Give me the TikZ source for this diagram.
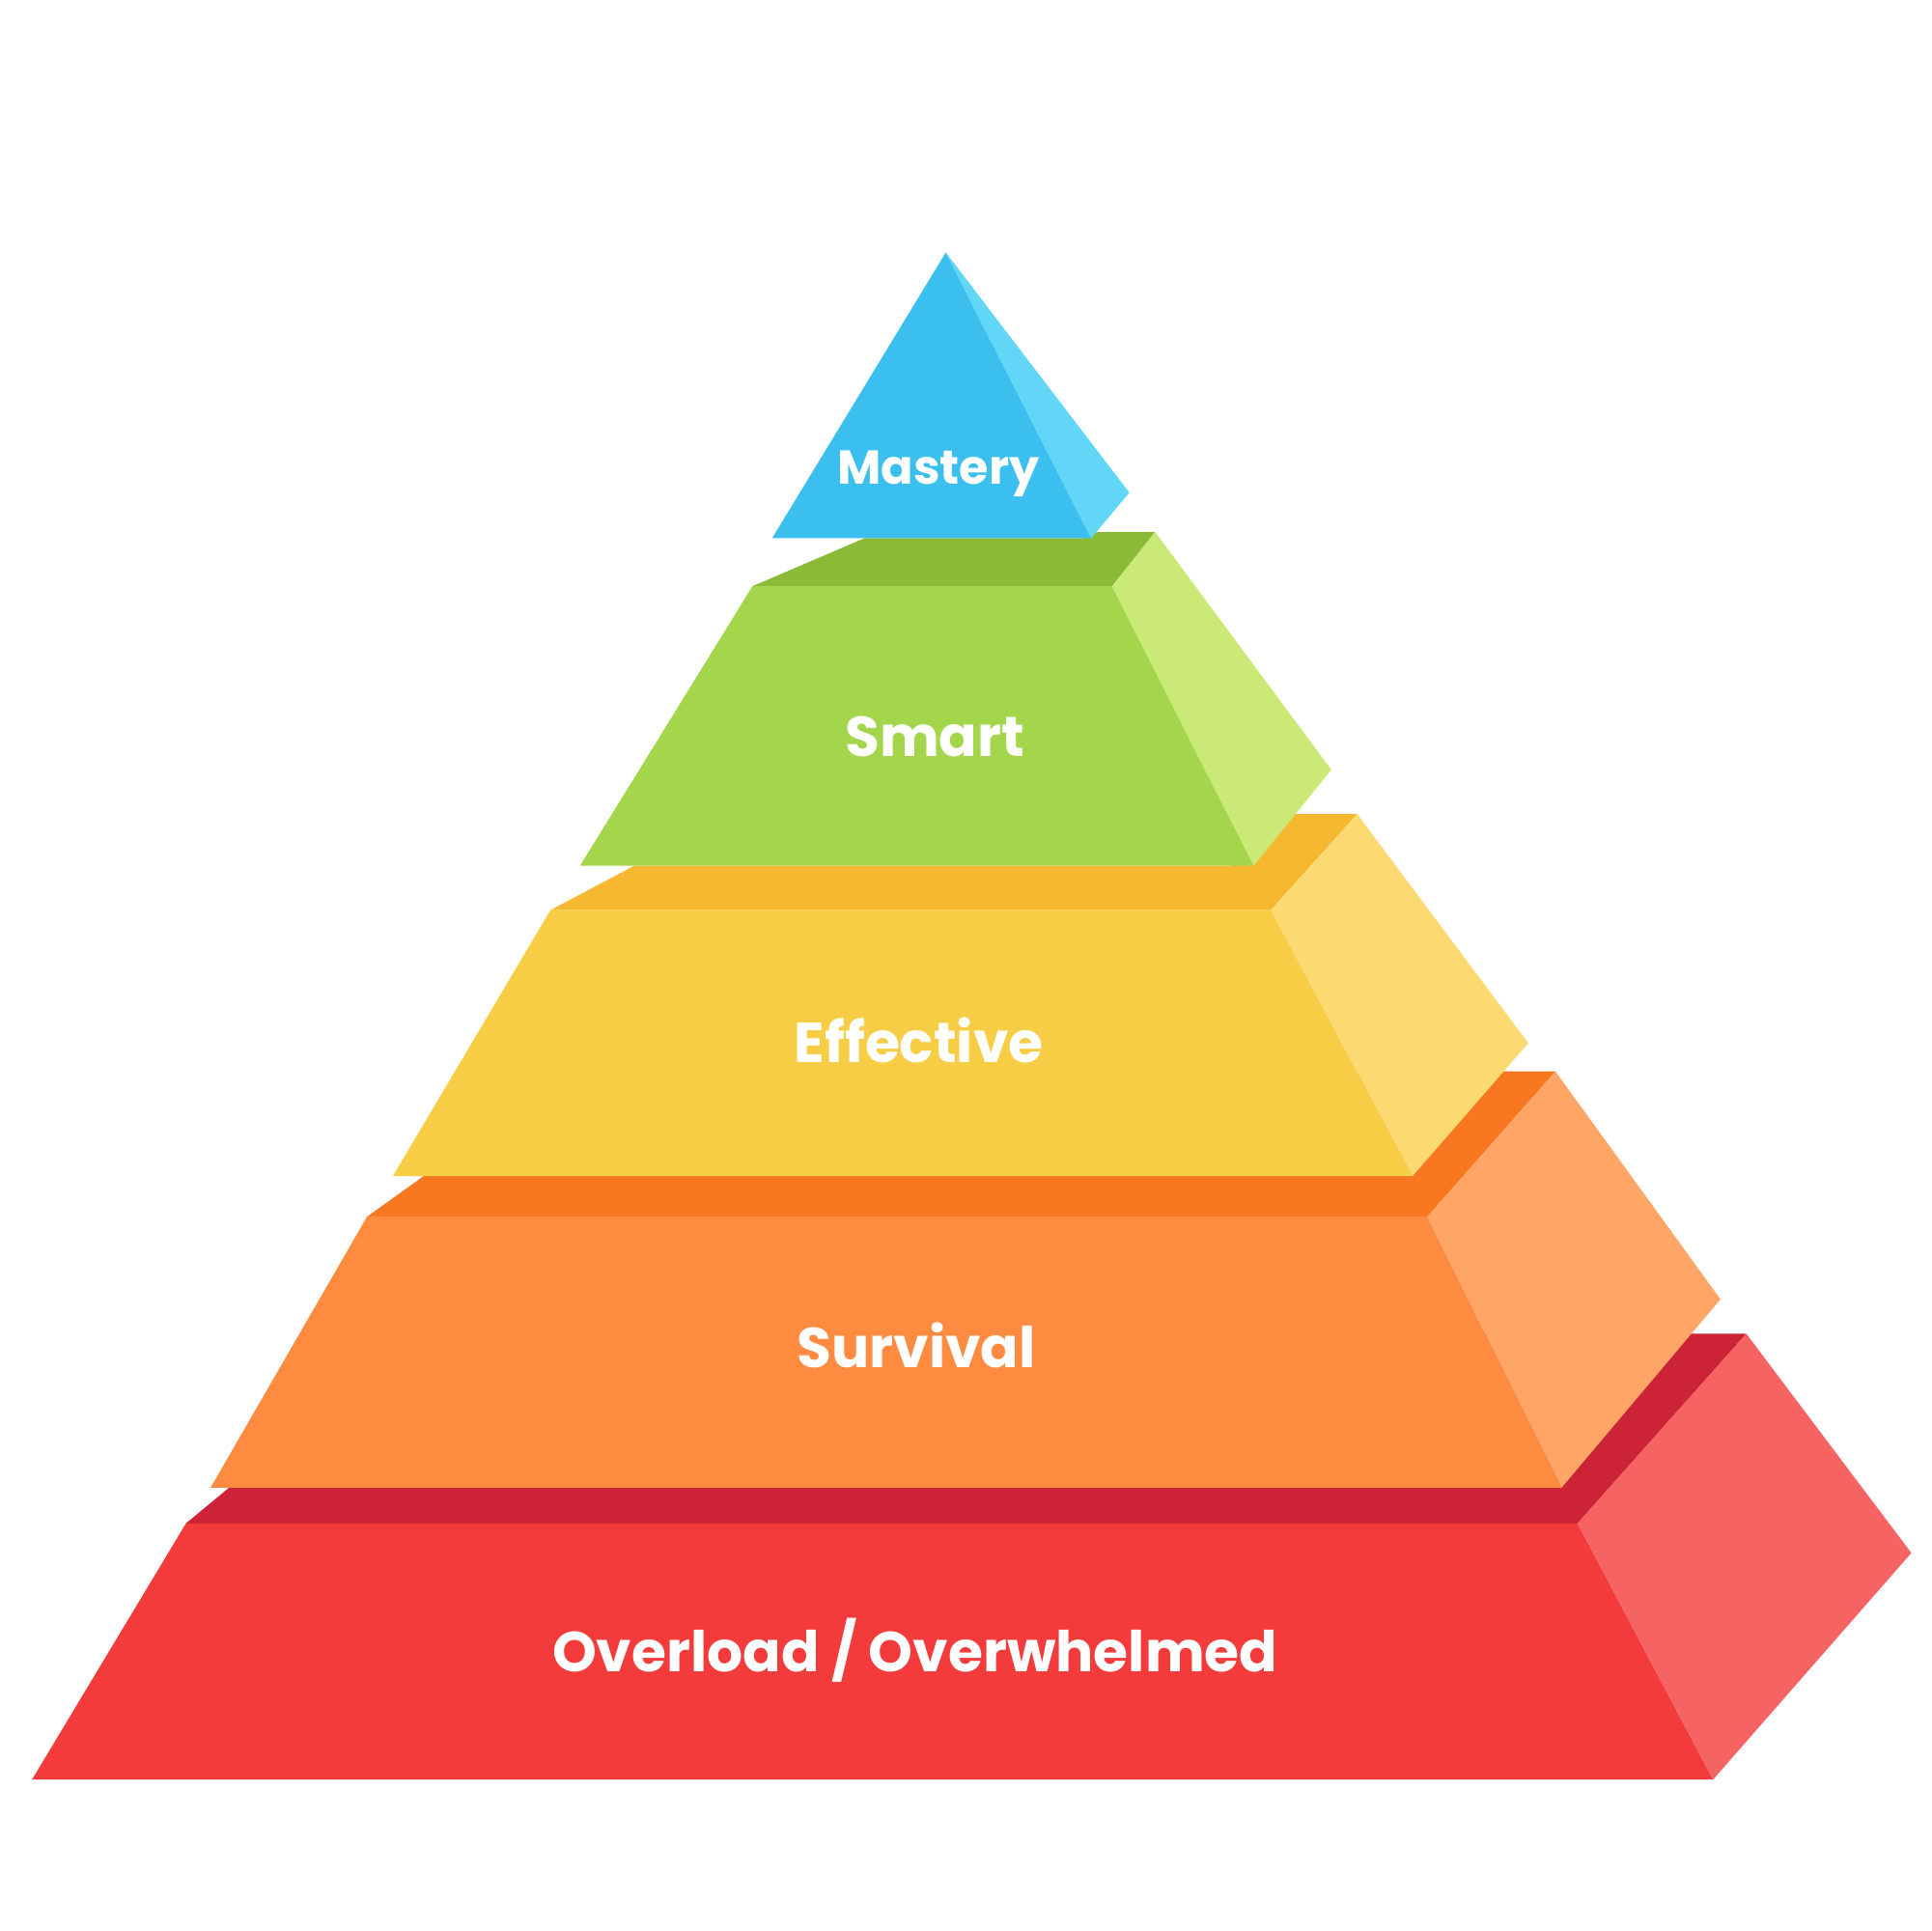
\documentclass[tikz,border=0pt]{standalone}
\usepackage{fontspec}
\setmainfont{Poppins}
\begin{document}
\begin{tikzpicture}[x=0.01cm,y=-0.01cm,
  lbl/.style={text=white,font=\bfseries\fontsize{13}{15}\selectfont,inner sep=0pt}]
\useasboundingbox (0,0) rectangle (1568,1568);
\definecolor{oF}{HTML}{F33B3C}\definecolor{oT}{HTML}{CC2336}\definecolor{oS}{HTML}{F66363}
\definecolor{sF}{HTML}{FE8B3F}\definecolor{sT}{HTML}{F97720}\definecolor{sS}{HTML}{FFA565}
\definecolor{eF}{HTML}{F7CD45}\definecolor{eT}{HTML}{F6B830}\definecolor{eS}{HTML}{FDD972}
\definecolor{mF}{HTML}{A3D64B}\definecolor{mT}{HTML}{8BBB36}\definecolor{mS}{HTML}{CBE976}
\definecolor{tF}{HTML}{3BBFEE}\definecolor{tS}{HTML}{62D6F7}
% Overload
\fill[oT] (151,1237)--(186,1208)--(1200,1208)--(1200,1083)--(1418,1083)--(1281,1237)--cycle;
\fill[oF] (151,1237)--(1281,1237)--(1391,1445)--(26,1445)--cycle;
\fill[oS] (1281,1237)--(1418,1083)--(1552,1261)--(1391,1445)--cycle;
% Survival
\fill[sT] (298,988)--(344,955)--(1100,955)--(1100,870)--(1263,870)--(1159,988)--cycle;
\fill[sF] (298,988)--(1159,988)--(1268,1208)--(171,1208)--cycle;
\fill[sS] (1159,988)--(1263,870)--(1397,1055)--(1268,1208)--cycle;
% Effective
\fill[eT] (447,739)--(515,703)--(1000,703)--(1000,661)--(1102,661)--(1032,739)--cycle;
\fill[eF] (447,739)--(1032,739)--(1147,955)--(319,955)--cycle;
\fill[eS] (1032,739)--(1102,661)--(1241,847)--(1147,955)--cycle;
% Smart
\fill[mT] (611,476)--(702,437)--(880,437)--(880,432)--(938,432)--(903,476)--cycle;
\fill[mF] (611,476)--(903,476)--(1018,703)--(471,703)--cycle;
\fill[mS] (903,476)--(938,432)--(1081,625)--(1018,703)--cycle;
% Mastery
\fill[tF] (768,205)--(886,437)--(627,437)--cycle;
\fill[tS] (768,205)--(917,400)--(886,437)--cycle;
\node[lbl,font=\bfseries\fontsize{11}{13}\selectfont] (mastery) at (762,385) {Mastery};
\node[lbl] (smart) at (759,598) {Smart};
\node[lbl] (effective) at (746,845) {Effective};
\node[lbl] (survival) at (744,1092) {Survival};
\node[lbl] (overload) at (743,1340) {Overload / Overwhelmed};
\end{tikzpicture}
\end{document}
